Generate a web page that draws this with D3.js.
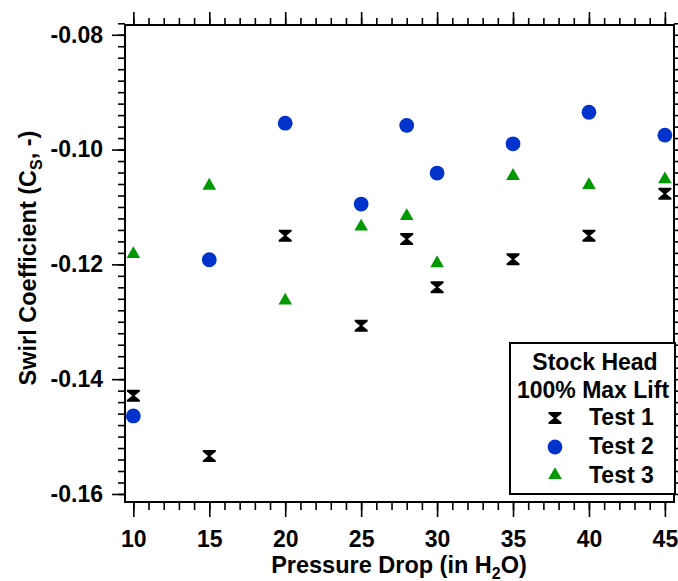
<!DOCTYPE html>
<html>
<head>
<meta charset="utf-8">
<script src="https://cdn.jsdelivr.net/npm/d3@7"></script>
<style>
  body { margin: 0; background: #fff; }
  text { font-family: "Liberation Sans", Arial, sans-serif; font-weight: bold; }
</style>
</head>
<body>
<div id="container"></div>
<script>
// data
const pressure = [10, 15, 20, 25, 28, 30, 35, 40, 45];
const test1 = [-0.1429, -0.1534, -0.1150, -0.1307, -0.1156, -0.1240, -0.1191, -0.1150, -0.1077];
const test2 = [-0.1464, -0.1192, -0.0954, -0.1095, -0.0958, -0.1041, -0.0990, -0.0935, -0.0975];
const test3 = [-0.1182, -0.1063, -0.1263, -0.1134, -0.1116, -0.1198, -0.1046, -0.1062, -0.1052];
const xTicks = [10, 15, 20, 25, 30, 35, 40, 45];
const yTicks = [-0.16, -0.14, -0.12, -0.10, -0.08];
const seriesNames = ["Test 1", "Test 2", "Test 3"];

const W = 678, H = 581;
const pLeft = 125, pRight = 674, pTop = 25, pBottom = 502;

let svg = d3.select('#container')
    .append('svg')
    .attr('width', W)
    .attr('height', H);

let x = d3.scaleLinear().domain([9.45, 45.6]).range([pLeft, pRight]);
let y = d3.scaleLinear().domain([-0.1614, -0.0783]).range([pBottom, pTop]);

let minorX = d3.range(10, 46, 1);
let minorY = d3.range(0, 42).map(i => -0.16 + i * 0.002);

// axes
let bottomAxis = svg.append('g').attr('transform', `translate(0,${pBottom})`);
bottomAxis.call(d3.axisBottom(x).tickValues(minorX).tickSize(8).tickFormat(''));
bottomAxis.append('g').call(d3.axisBottom(x).tickValues(xTicks).tickSize(15).tickPadding(14).tickFormat(d => String(d)));

let topAxis = svg.append('g').attr('transform', `translate(0,${pTop})`);
topAxis.call(d3.axisTop(x).tickValues(minorX).tickSize(7).tickFormat(''));
topAxis.append('g').call(d3.axisTop(x).tickValues(xTicks).tickSize(13).tickFormat(''));

let leftAxis = svg.append('g').attr('transform', `translate(${pLeft},0)`);
leftAxis.call(d3.axisLeft(y).tickValues(minorY).tickSize(7).tickFormat(''));
leftAxis.append('g').call(d3.axisLeft(y).tickValues(yTicks).tickSize(13).tickPadding(9).tickFormat(d => d.toFixed(2)));

let rightAxis = svg.append('g').attr('transform', `translate(${pRight},0)`);
rightAxis.call(d3.axisRight(y).tickValues(minorY).tickSize(7).tickFormat(''));

svg.selectAll('.domain').remove();
svg.selectAll('.tick line').attr('stroke', '#000').attr('stroke-width', 1.6);
svg.selectAll('.tick text').attr('fill', '#000').style('font-size', '23px');

// frame
svg.append('rect')
    .attr('x', pLeft).attr('y', pTop)
    .attr('width', pRight - pLeft).attr('height', pBottom - pTop)
    .attr('fill', 'none').attr('stroke', '#000').attr('stroke-width', 2);

// axis titles
let xt = svg.append('text')
    .attr('x', 399).attr('y', 573)
    .attr('text-anchor', 'middle')
    .style('font-size', '23.5px');
xt.append('tspan').text('Pressure Drop (in H');
xt.append('tspan').attr('dy', 6).style('font-size', '16px').text('2');
xt.append('tspan').attr('dy', -6).text('O)');

let yt = svg.append('text')
    .attr('transform', 'translate(36,258) rotate(-90)')
    .attr('text-anchor', 'middle')
    .style('font-size', '23.5px');
yt.append('tspan').text('Swirl Coefficient (C');
yt.append('tspan').attr('dy', 6).style('font-size', '16px').text('S');
yt.append('tspan').attr('dy', -6).text(', -)');

// markers
const blue = '#0033cc', green = '#009900';
const hourglass = 'M-6.5,-6 H6.5 V-4.3 L1.2,0 L6.5,4.3 V6 H-6.5 V4.3 L-1.2,0 L-6.5,-4.3 Z';
const triangle = d3.symbol().type(d3.symbolTriangle).size(80)();

function drawSeries(vals, path, color) {
    svg.append('g').selectAll('path')
        .data(vals)
        .enter()
        .append('path')
        .attr('d', path)
        .attr('fill', color)
        .attr('transform', (d, i) => `translate(${x(pressure[i])},${y(d)})`);
}

drawSeries(test1, hourglass, '#000');
svg.append('g').selectAll('circle')
    .data(test2)
    .enter()
    .append('circle')
    .attr('cx', (d, i) => x(pressure[i]))
    .attr('cy', d => y(d))
    .attr('r', 7.4)
    .attr('fill', blue);
drawSeries(test3, triangle, green);

// legend
let lg = svg.append('g');
lg.append('rect')
    .attr('x', 510).attr('y', 343).attr('width', 165).attr('height', 151)
    .attr('fill', '#fff').attr('stroke', '#000').attr('stroke-width', 2);
lg.append('text').attr('x', 595).attr('y', 370).attr('text-anchor', 'middle')
    .style('font-size', '23px').text('Stock Head');
lg.append('text').attr('x', 593).attr('y', 398).attr('text-anchor', 'middle')
    .style('font-size', '23px').text('100% Max Lift');
const legendY = [418, 447, 475];
lg.append('path').attr('d', hourglass).attr('fill', '#000')
    .attr('transform', `translate(555,${legendY[0]})`);
lg.append('circle').attr('cx', 555).attr('cy', legendY[1]).attr('r', 7.4).attr('fill', blue);
lg.append('path').attr('d', triangle).attr('fill', green)
    .attr('transform', `translate(555,${legendY[2]})`);
seriesNames.forEach((n, i) => {
    lg.append('text').attr('x', 589).attr('y', [425, 454, 483][i])
        .style('font-size', '23px').text(n);
});
</script>
</body>
</html>
